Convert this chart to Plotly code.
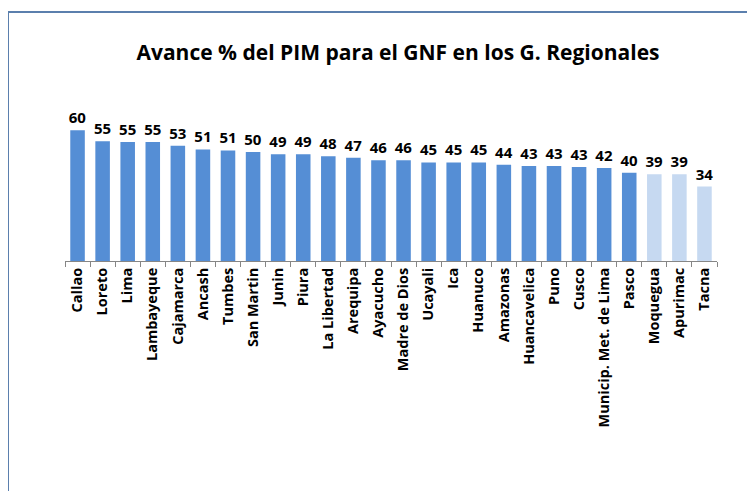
import plotly.graph_objects as go

regiones = [
    "Callao", "Loreto", "Lima", "Lambayeque", "Cajamarca", "Ancash", "Tumbes",
    "San Martin", "Junin", "Piura", "La Libertad", "Arequipa", "Ayacucho",
    "Madre de Dios", "Ucayali", "Ica", "Huanuco", "Amazonas", "Huancavelica",
    "Puno", "Cusco", "Municip. Met. de Lima", "Pasco", "Moquegua", "Apurimac", "Tacna",
]
avance = [60, 55, 55, 55, 53, 51, 51, 50, 49, 49, 48, 47, 46,
          46, 45, 45, 45, 44, 43, 43, 43, 42, 40, 39, 39, 34]
# bar heights (labels are rounded)
altura = [60.2, 55.2, 54.8, 54.8, 53.1, 51.4, 50.9, 50.2, 49.2, 49.2, 48.2, 47.5, 46.4,
          46.4, 45.4, 45.4, 45.4, 44.3, 43.8, 43.8, 43.3, 42.8, 40.6, 39.9, 39.9, 34.3]
resaltar = [True] * 23 + [False] * 3

DARK = "#558ed5"
LIGHT = "#c6d9f1"
FONT = "Open Sans"

# the page body adds an 8px offset, so work in figure pixels = screen - 8
OFF = 8
FW, FH = 755 - OFF, 491 - OFF
L, R, T, B = 65 - OFF, 717 - OFF, 109 - OFF, 261 - OFF
W, H = R - L, B - T
px = lambda x: (x - OFF - L) / W
py = lambda y: (B - (y - OFF)) / H

fig = go.Figure()
fig.add_trace(go.Bar(
    x=regiones,
    y=altura,
    text=[f"<b>{v}</b>" for v in avance],
    textposition="outside",
    constraintext="none",
    cliponaxis=False,
    textfont=dict(family=FONT, size=15, color="black"),
    marker=dict(color=[DARK if r else LIGHT for r in resaltar], line=dict(width=0)),
    hoverinfo="x+y",
))

# frame of the original chart box (only top and left edges are visible)
edge = dict(color="#5b7fad", width=2)
fig.add_shape(type="line", xref="paper", yref="paper",
              x0=px(8), x1=px(760), y0=py(12), y1=py(12), line=edge)
fig.add_shape(type="line", xref="paper", yref="paper",
              x0=px(8), x1=px(8), y0=py(12), y1=py(495), line=edge)

fig.update_layout(
    width=FW, height=FH,
    margin=dict(l=L, r=FW - R, t=T, b=FH - B),
    paper_bgcolor="white", plot_bgcolor="white",
    bargap=0.42,
    showlegend=False,
    font=dict(family=FONT, color="black"),
    title=dict(
        text="<b>Avance % del PIM para el GNF en los G. Regionales</b>",
        font=dict(family=FONT, size=21, color="black"),
        x=px(398), xref="paper", xanchor="center",
        y=1 - (53 - OFF) / FH, yanchor="middle",
    ),
    xaxis=dict(
        tickangle=-90,
        tickfont=dict(family=FONT, size=14.5, color="black", weight="bold"),
        showline=True, linecolor="#868686", linewidth=1,
        ticks="outside", tickson="boundaries", ticklen=5, tickcolor="#868686",
        showgrid=False,
    ),
    yaxis=dict(range=[0, 70], visible=False, showgrid=False),
)

fig.write_html("out.html")
